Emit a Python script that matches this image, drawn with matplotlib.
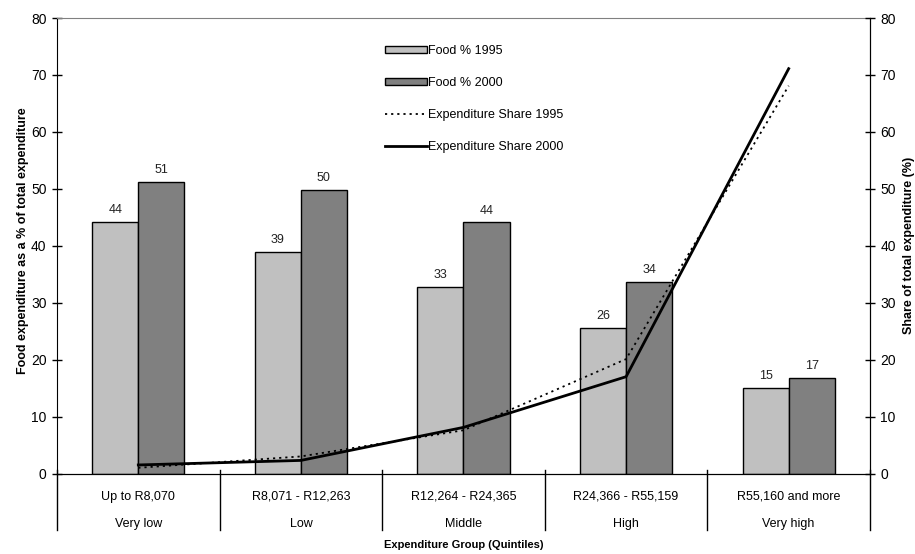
import matplotlib.pyplot as plt
import numpy as np

plt.rcParams['font.family'] = ['Liberation Sans', 'DejaVu Sans']

# expenditure groups (quintiles)
ranges = ['Up to R8,070', 'R8,071 - R12,263', 'R12,264 - R24,365', 'R24,366 - R55,159', 'R55,160 and more']
groups = ['Very low', 'Low', 'Middle', 'High', 'Very high']

# food expenditure as % of total expenditure
food_1995 = [44.2, 38.9, 32.8, 25.6, 15.1]
food_2000 = [51.2, 49.8, 44.1, 33.7, 16.8]

# share of total expenditure (%)
share_1995 = [1.0, 3.0, 7.6, 20.1, 68.1]
share_2000 = [1.5, 2.3, 8.1, 17.0, 71.1]

fig = plt.figure(figsize=(9.15, 5.54), dpi=100)
ax = fig.add_axes([0.0623, 0.1453, 0.8885, 0.8222])
x = np.arange(len(groups))
w = 0.283

b1 = ax.bar(x - w/2, food_1995, w, color='#c0c0c0', edgecolor='black', linewidth=1.0, label='Food % 1995')
b2 = ax.bar(x + w/2, food_2000, w, color='#808080', edgecolor='black', linewidth=1.0, label='Food % 2000')
for bars, vals in ((b1, food_1995), (b2, food_2000)):
    for r, v in zip(bars, vals):
        ax.annotate('{:.0f}'.format(v), (r.get_x() + r.get_width()/2, v), xytext=(0, 4),
                    textcoords='offset points', ha='center', va='bottom', fontsize=9, color='#222222')

ax.set_xlim(-0.5, 4.5)
ax.set_ylim(0, 80)
ax.set_yticks(range(0, 81, 10))
ax.set_xticks([])
ax.tick_params(axis='y', direction='inout', length=7, width=1, labelsize=10, pad=4)
ax.spines['top'].set_color('#808080')
for s in ('left', 'right', 'bottom'):
    ax.spines[s].set_color('black')
ax.spines['left'].set_bounds(0, 80)

ax2 = ax.twinx()
ax2.set_ylim(0, 80)
ax2.set_yticks(range(0, 81, 10))
ax2.tick_params(axis='y', direction='inout', length=7, width=1, labelsize=10, pad=4)
ax2.spines['top'].set_visible(False)
ax2.spines['left'].set_visible(False)
l1, = ax2.plot(x, share_1995, color='black', linestyle=(0, (1.2, 2.2)), linewidth=1.3, label='Expenditure Share 1995')
l2, = ax2.plot(x, share_2000, color='black', linestyle='-', linewidth=2.0, label='Expenditure Share 2000')

# category separators and two-level labels below the axis
trans = ax.get_xaxis_transform()
for xb in np.arange(-0.5, 5.0, 1.0):
    ax.plot([xb, xb], [0.008, -0.123], color='black', linewidth=1.0, transform=trans, clip_on=False)
for i in range(len(groups)):
    ax.text(i, -0.051, ranges[i], transform=trans, ha='center', va='center', fontsize=9)
    ax.text(i, -0.11, groups[i], transform=trans, ha='center', va='center', fontsize=9)

ax.text(2, -0.158, 'Expenditure Group (Quintiles)', transform=trans, ha='center', va='center',
        fontsize=8, fontweight='bold')
ax.set_ylabel('Food expenditure as a % of total expenditure', fontsize=9, fontweight='bold', labelpad=1.5)
ax.yaxis.label.set_y(0.511)
ax2.set_ylabel('Share of total expenditure (%)', fontsize=9, fontweight='bold', labelpad=5)

leg = ax2.legend(handles=[b1, b2, l1, l2], loc='upper left', bbox_to_anchor=(0.403, 0.94),
                 frameon=False, fontsize=9, handlelength=3.4, handleheight=0.5, handletextpad=0.1,
                 labelspacing=1.6, borderaxespad=0, borderpad=0)

fig.savefig('out.png', dpi=100)
